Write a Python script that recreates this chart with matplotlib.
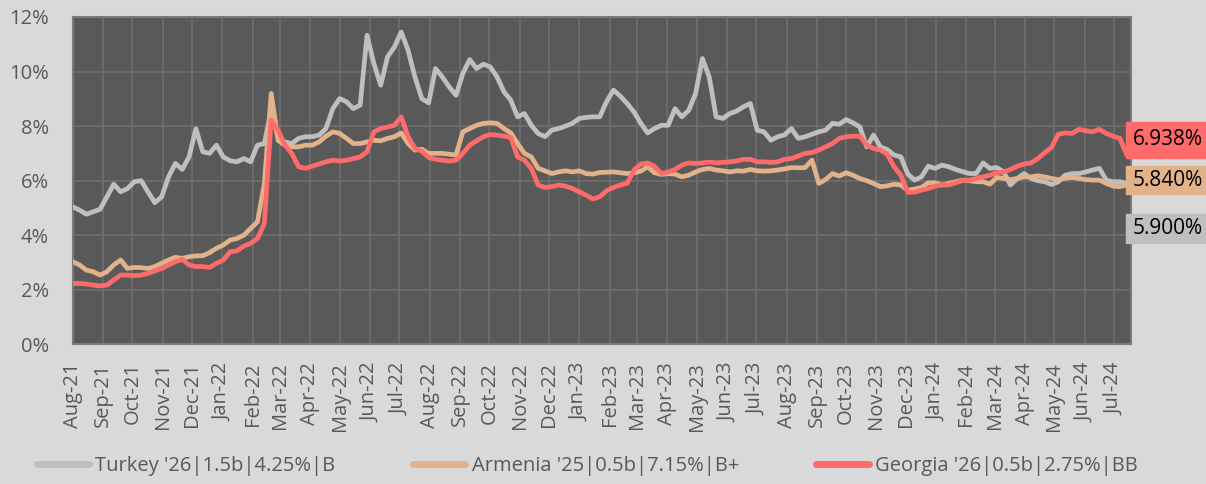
import matplotlib
matplotlib.use("Agg")
import matplotlib.pyplot as plt
import matplotlib.dates as mdates
from matplotlib.patches import Rectangle
from matplotlib.ticker import FuncFormatter
import pandas as pd

# ---------------- data (weekly observations, yield in %) ----------------
start_date = "2021-08-01"
n_obs = 155

turkey = [5.04, 4.92, 4.77, 4.86, 4.95, 5.41, 5.87, 5.59, 5.71, 5.96, 6.0, 5.59, 5.19, 5.41, 6.14, 6.63, 6.41, 6.87, 7.9, 7.06, 7.0, 7.3, 6.87, 6.73, 6.69, 6.81,
          6.69, 7.3, 7.36, 8.58, 7.61, 7.42, 7.36, 7.55, 7.61, 7.61, 7.67, 7.91, 8.64, 9.01, 8.89, 8.64, 8.77, 11.33, 10.29, 9.5, 10.54, 10.9, 11.45, 10.78, 9.8, 9.01, 8.85,
          10.11, 9.8, 9.44, 9.13, 9.93, 10.44, 10.11, 10.27, 10.17, 9.8, 9.26, 8.95, 8.34, 8.46, 8.03, 7.73, 7.61, 7.85, 7.91, 8.0, 8.1, 8.28, 8.32, 8.34, 8.34, 8.9,
          9.32, 9.1, 8.83, 8.52, 8.1, 7.75, 7.91, 8.03, 8.03, 8.64, 8.34, 8.58, 9.19, 10.48, 9.8, 8.34, 8.28, 8.46, 8.55, 8.71, 8.83, 7.85, 7.79, 7.48, 7.61, 7.68,
          7.91, 7.55, 7.61, 7.7, 7.79, 7.85, 8.1, 8.07, 8.24, 8.12, 7.97, 7.24, 7.67, 7.24, 7.14, 6.94, 6.87, 6.24, 6.02, 6.14, 6.53, 6.45, 6.57, 6.51, 6.41, 6.33,
          6.26, 6.26, 6.65, 6.45, 6.48, 6.32, 5.84, 6.08, 6.26, 6.08, 6.0, 5.96, 5.86, 5.96, 6.2, 6.26, 6.26, 6.32, 6.39, 6.45, 6.02, 5.96, 5.96, 5.90]

armenia = [3.03, 2.91, 2.72, 2.66, 2.54, 2.66, 2.91, 3.09, 2.78, 2.82, 2.81, 2.78, 2.85, 2.97, 3.09, 3.19, 3.15, 3.21, 3.24, 3.25, 3.36, 3.52, 3.64, 3.82, 3.88, 4.0,
           4.25, 4.49, 5.9, 9.2, 7.48, 7.3, 7.24, 7.24, 7.3, 7.3, 7.42, 7.63, 7.79, 7.73, 7.55, 7.36, 7.36, 7.42, 7.48, 7.46, 7.55, 7.61, 7.75, 7.36, 7.12, 7.15, 7.0,
           7.0, 7.0, 6.97, 6.94, 7.79, 7.91, 8.03, 8.1, 8.12, 8.1, 7.91, 7.75, 7.36, 7.0, 6.87, 6.45, 6.36, 6.26, 6.32, 6.36, 6.32, 6.36, 6.26, 6.24, 6.3, 6.31,
           6.32, 6.29, 6.26, 6.29, 6.35, 6.51, 6.29, 6.23, 6.26, 6.24, 6.14, 6.2, 6.32, 6.41, 6.45, 6.39, 6.36, 6.32, 6.36, 6.35, 6.41, 6.36, 6.35, 6.36, 6.39, 6.43,
           6.48, 6.47, 6.48, 6.75, 5.9, 6.04, 6.26, 6.17, 6.29, 6.2, 6.08, 6.0, 5.9, 5.78, 5.81, 5.87, 5.84, 5.65, 5.69, 5.75, 5.92, 5.92, 5.84, 5.9, 5.96, 6.02,
           6.0, 5.96, 5.96, 5.87, 6.12, 6.08, 6.04, 6.08, 6.14, 6.14, 6.18, 6.14, 6.08, 6.04, 6.08, 6.12, 6.08, 6.04, 6.02, 6.02, 5.9, 5.8, 5.78, 5.84]

georgia = [2.23, 2.23, 2.21, 2.17, 2.14, 2.17, 2.36, 2.54, 2.54, 2.52, 2.54, 2.6, 2.69, 2.78, 2.91, 3.03, 3.11, 2.91, 2.85, 2.85, 2.82, 2.97, 3.09, 3.39, 3.43, 3.6,
           3.7, 3.88, 4.43, 8.22, 7.85, 7.3, 7.0, 6.51, 6.45, 6.53, 6.61, 6.69, 6.75, 6.72, 6.75, 6.81, 6.87, 7.06, 7.79, 7.91, 7.97, 8.03, 8.34, 7.61, 7.18, 7.08, 6.85,
           6.78, 6.75, 6.72, 6.75, 7.0, 7.3, 7.46, 7.61, 7.69, 7.67, 7.63, 7.58, 6.87, 6.75, 6.45, 5.84, 5.75, 5.78, 5.84, 5.8, 5.71, 5.59, 5.47, 5.33, 5.41, 5.63,
           5.75, 5.84, 5.9, 6.39, 6.61, 6.65, 6.53, 6.26, 6.32, 6.41, 6.57, 6.65, 6.63, 6.65, 6.68, 6.65, 6.67, 6.69, 6.72, 6.78, 6.78, 6.69, 6.69, 6.67, 6.69, 6.78,
           6.81, 6.9, 7.0, 7.03, 7.12, 7.24, 7.36, 7.55, 7.61, 7.63, 7.63, 7.3, 7.18, 7.12, 6.97, 6.51, 6.2, 5.57, 5.58, 5.65, 5.71, 5.8, 5.84, 5.84, 5.92, 6.0,
           6.02, 6.08, 6.14, 6.2, 6.29, 6.32, 6.41, 6.53, 6.61, 6.65, 6.81, 7.02, 7.22, 7.7, 7.75, 7.73, 7.88, 7.83, 7.79, 7.88, 7.73, 7.63, 7.55, 6.938]

series_names = ["Turkey '26|1.5b|4.25%|B", "Armenia '25|0.5b|7.15%|B+", "Georgia '26|0.5b|2.75%|BB"]
series_colors = ["#bfbfbf", "#e2b28a", "#ff6b6b"]
y_ticks = [0, 2, 4, 6, 8, 10, 12]
x_start, x_end = "2021-08-01", "2024-07-18"

# ---------------- figure ----------------
W, H = 1206, 484
font = ["Open Sans", "DejaVu Sans"]
plt.rcParams["font.family"] = font
fig = plt.figure(figsize=(W / 100, H / 100), dpi=100, facecolor="#d9d9d9")

ax = fig.add_axes([72.7 / W, 1 - 344.3 / H, (1130.7 - 72.7) / W, (344.3 - 17) / H])
ax.set_facecolor("#595959")

dates = pd.date_range(start_date, periods=n_obs, freq="7D")
for vals, name, col in zip([turkey, armenia, georgia], series_names, series_colors):
    ax.plot(dates, vals, color=col, lw=3.4, label=name, solid_joinstyle="round",
            solid_capstyle="round", zorder=3)

ax.set_xlim(pd.Timestamp(x_start), pd.Timestamp(x_end))
ax.set_ylim(0, 12)
ax.set_yticks(y_ticks)
ax.yaxis.set_major_formatter(FuncFormatter(lambda v, p: f"{v:.0f}%"))
ax.xaxis.set_major_locator(mdates.MonthLocator())
ax.xaxis.set_major_formatter(mdates.DateFormatter("%b-%y"))

ax.grid(True, color="#6d6d6d", lw=1.3, zorder=1)
ax.set_axisbelow(True)
for s in ax.spines.values():
    s.set_color("#7a7a7a")
    s.set_linewidth(1.5)

ax.tick_params(axis="y", length=0, pad=17, labelsize=14.5, labelcolor="#595959")
ax.tick_params(axis="x", length=0, pad=13, labelsize=14.5, labelcolor="#595959", rotation=90)

# ---------------- end-value labels ----------------
label_boxes = [(2, 122, 158), (1, 166, 194), (0, 214, 243)]  # (series index, top px, bottom px)
all_vals = [turkey, armenia, georgia]
for idx, top, bot in label_boxes:
    fig.add_artist(Rectangle((1126 / W, 1 - bot / H), 90 / W, (bot - top) / H,
                             transform=fig.transFigure, color=series_colors[idx], zorder=5))
    fig.text(1133 / W, 1 - (top + bot) / 2 / H, f"{all_vals[idx][-1]:.3f}%", ha="left", va="center",
             fontsize=15, color="black", zorder=6)

# ---------------- legend ----------------
leg = fig.legend(loc="center", bbox_to_anchor=(0.487, 1 - 466 / H), ncol=3, frameon=False,
                 fontsize=14.5, labelcolor="#595959", handlelength=2.6, handletextpad=0.3,
                 columnspacing=3.85, borderaxespad=0)
for line in leg.get_lines():
    line.set_linewidth(5)
    line.set_solid_capstyle("round")

fig.savefig("out.png", dpi=100, facecolor=fig.get_facecolor())
